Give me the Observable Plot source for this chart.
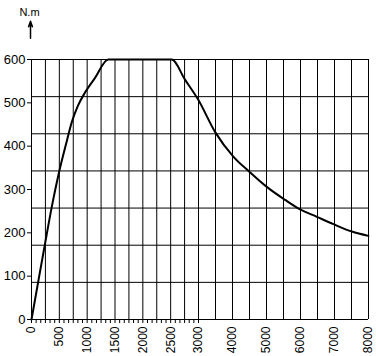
<!DOCTYPE html>
<html>
<head>
<meta charset="utf-8">
<script src="https://cdn.jsdelivr.net/npm/d3@7"></script>
<script src="https://cdn.jsdelivr.net/npm/@observablehq/plot@0.6"></script>
<style>
  html, body { margin: 0; padding: 0; background: white; }
</style>
</head>
<body>
<div id="chart"></div>
<script>
// Engine speed (rpm) and torque (N.m)
const rpm    = [0, 119, 239, 360, 497, 617, 725, 833, 958, 1138, 1378, 2518, 2760, 2996, 3486, 4024, 4496, 5008, 5547, 5988, 6480, 6968, 7510, 8000];
const torque = [0, 86, 172, 257, 341, 403, 456, 493, 523, 557, 600, 600, 553, 507, 433, 376, 341, 306, 276, 254, 237, 220, 203, 193];

// Axis labels
const xLabels = [0, 500, 1000, 1500, 2000, 2500, 3000, 4000, 5000, 6000, 7000, 8000];
const yLabels = [0, 100, 200, 300, 400, 500, 600];

// Grid lines: every 250 rpm up to 3000, then every 500 rpm; 7 equal torque divisions
const gridX = [0, 250, 500, 750, 1000, 1250, 1500, 1750, 2000, 2250, 2500, 2750, 3000, 3500, 4000, 4500, 5000, 5500, 6000, 6500, 7000, 7500, 8000];
const gridY = d3.range(8).map(i => i * 600 / 7);
// Minor ticks under the axis (three per 250 rpm, up to 3000)
const minorTicks = d3.range(37).map(i => i * 250 / 3);

const data = rpm.map((r, i) => ({rpm: r, torque: torque[i]}));

const chart = Plot.plot({
  width: 376,
  height: 356,
  marginLeft: 31,
  marginRight: 8,
  marginTop: 59,
  marginBottom: 37,
  style: {fontFamily: "Liberation Sans, Arial, sans-serif", background: "white", color: "black"},
  x: {type: "linear", domain: [0, 3000, 8000], range: [31, 198, 368]},
  y: {domain: [0, 600], range: [319, 59]},
  marks: [
    Plot.ruleX(gridX, {stroke: "black", strokeWidth: 1, y1: 0, y2: 600}),
    Plot.ruleY(gridY, {stroke: "black", strokeWidth: 1, x1: 0, x2: 8000}),
    Plot.axisY({ticks: yLabels, tickSize: 4, tickPadding: 2, fontSize: 13, label: null, tickFormat: d => String(d), stroke: "black", fill: "black"}),
    Plot.axisX({ticks: minorTicks, tickSize: 4, tickFormat: () => "", label: null, stroke: "black"}),
    Plot.axisX({ticks: xLabels, tickSize: 0, tickPadding: 7, tickRotate: -90, fontSize: 12, label: null, tickFormat: d => String(d), fill: "black"}),
    Plot.line(data, {x: "rpm", y: "torque", stroke: "black", strokeWidth: 2, curve: "monotone-x"}),
    Plot.text(["N.m"], {frameAnchor: "top-left", dx: -2, dy: -51, fontSize: 11, fill: "black", textAnchor: "middle"}),
    Plot.arrow([0], {x1: 0, x2: 0, y1: 649, y2: 688, dx: -1, stroke: "black", strokeWidth: 1.5, headLength: 7, headAngle: 40})
  ]
});
document.getElementById("chart").appendChild(chart);
</script>
</body>
</html>
